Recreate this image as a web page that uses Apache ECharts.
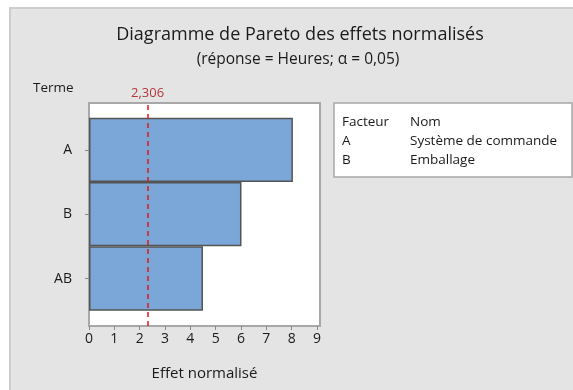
<!DOCTYPE html>
<html>
<head>
<meta charset="utf-8">
<script src="https://cdn.jsdelivr.net/npm/echarts@6/dist/echarts.min.js"></script>
<style>
  html, body { margin: 0; padding: 0; background: #ffffff; }
  #chart { width: 573px; height: 390px; }
</style>
</head>
<body>
<div id="chart"></div>
<script>
// Pareto chart of standardized effects
const terms = ['A', 'B', 'AB'];
const effects = [8.05, 6.02, 4.50];
const xTicks = [0, 1, 2, 3, 4, 5, 6, 7, 8, 9];
const criticalValue = 2.306;
const factorCodes = ['A', 'B'];
const factorNames = ['Système de commande', 'Emballage'];

const FONT = 'Open Sans';
const TEXT = '#1a1a1a';
const BODY = 13.5;

const chart = echarts.init(document.getElementById('chart'), null, { renderer: 'canvas' });

const frameLeft = 89, frameRight = 253, frameTop = 103, frameBottom = 64;
const xMax = 9.12;

// factor legend table
const tableX = 334, tableY = 103, tableW = 238, tableH = 74;
const cellFont = BODY + 'px "' + FONT + '"';
const tableChildren = [
  { type: 'rect', shape: { x: tableX, y: tableY, width: tableW, height: tableH },
    style: { fill: '#ffffff', stroke: '#a8a8a8', lineWidth: 1.5 } },
  { type: 'text', x: tableX + 8, y: tableY + 19,
    style: { text: 'Facteur', font: cellFont, fill: TEXT, verticalAlign: 'middle' } },
  { type: 'text', x: tableX + 76, y: tableY + 19,
    style: { text: 'Nom', font: cellFont, fill: TEXT, verticalAlign: 'middle' } }
];
factorCodes.forEach(function (code, i) {
  tableChildren.push({ type: 'text', x: tableX + 8, y: tableY + 38 + i * 19,
    style: { text: code, font: cellFont, fill: TEXT, verticalAlign: 'middle' } });
  tableChildren.push({ type: 'text', x: tableX + 76, y: tableY + 38 + i * 19,
    style: { text: factorNames[i], font: cellFont, fill: TEXT, verticalAlign: 'middle' } });
});

const option = {
  backgroundColor: 'transparent',
  animation: false,
  textStyle: { fontFamily: FONT },
  graphic: [
    { type: 'rect', z: -10, shape: { x: 10, y: 8, width: 580, height: 400 },
      style: { fill: '#e4e4e4', stroke: '#cdcdcd', lineWidth: 2 } },
    { type: 'group', children: tableChildren }
  ],
  title: [
    { text: 'Diagramme de Pareto des effets normalisés', left: 295, top: 21, textAlign: 'center',
      textStyle: { fontFamily: FONT, fontSize: 18, fontWeight: 'normal', color: TEXT } },
    { text: '(réponse = Heures; α = 0,05)', left: 293, top: 47, textAlign: 'center',
      textStyle: { fontFamily: FONT, fontSize: 15.5, fontWeight: 'normal', color: TEXT } },
    { text: 'Terme', left: 28, top: 76,
      textStyle: { fontFamily: FONT, fontSize: BODY, fontWeight: 'normal', color: TEXT } }
  ],
  grid: [
    // plot frame
    { left: frameLeft, right: frameRight, top: frameTop, bottom: frameBottom,
      show: true, backgroundColor: '#ffffff', borderColor: '#a8a8a8', borderWidth: 2 },
    // bar band
    { left: frameLeft, right: frameRight, top: 117.7, height: 193 }
  ],
  xAxis: [
    { type: 'value', gridIndex: 0, min: 0, max: xMax, interval: 1,
      name: 'Effet normalisé', nameLocation: 'middle', nameGap: 40,
      nameTextStyle: { fontFamily: FONT, fontSize: 15, color: TEXT },
      axisLine: { show: true, lineStyle: { color: '#a8a8a8', width: 2 } },
      axisTick: { show: true, length: 4, lineStyle: { color: '#8a8a8a' } },
      splitLine: { show: false },
      axisLabel: {
        fontFamily: FONT, fontSize: 14, color: TEXT, margin: 6,
        showMaxLabel: false,
        formatter: function (v) { return xTicks.indexOf(v) >= 0 ? String(v) : ''; }
      } },
    { type: 'value', gridIndex: 1, min: 0, max: xMax, show: false }
  ],
  yAxis: [
    { type: 'value', gridIndex: 0, min: 0, max: 1, show: false },
    { type: 'category', gridIndex: 1, data: terms, inverse: true,
      axisLine: { show: false },
      axisTick: { show: true, alignWithLabel: true, length: 4, lineStyle: { color: '#8a8a8a' } },
      axisLabel: { fontFamily: FONT, fontSize: 14, color: TEXT, margin: 17 } }
  ],
  series: [
    { type: 'scatter', xAxisIndex: 0, yAxisIndex: 0, data: [[0, 0]], symbolSize: 0, silent: true,
      markLine: {
        silent: true, symbol: 'none',
        lineStyle: { color: '#e0191d', type: [5, 4], width: 1.5 },
        label: { show: true, position: 'end', distance: 3,
          formatter: String(criticalValue).replace('.', ','),
          fontFamily: FONT, fontSize: 13, color: '#b5373a' },
        data: [{ xAxis: criticalValue }]
      } },
    { type: 'bar', xAxisIndex: 1, yAxisIndex: 1, data: effects, barCategoryGap: 0, z: 3,
      itemStyle: { color: '#7ba6d8', borderColor: '#545454', borderWidth: 1.5 } }
  ]
};

chart.setOption(option);
</script>
</body>
</html>
